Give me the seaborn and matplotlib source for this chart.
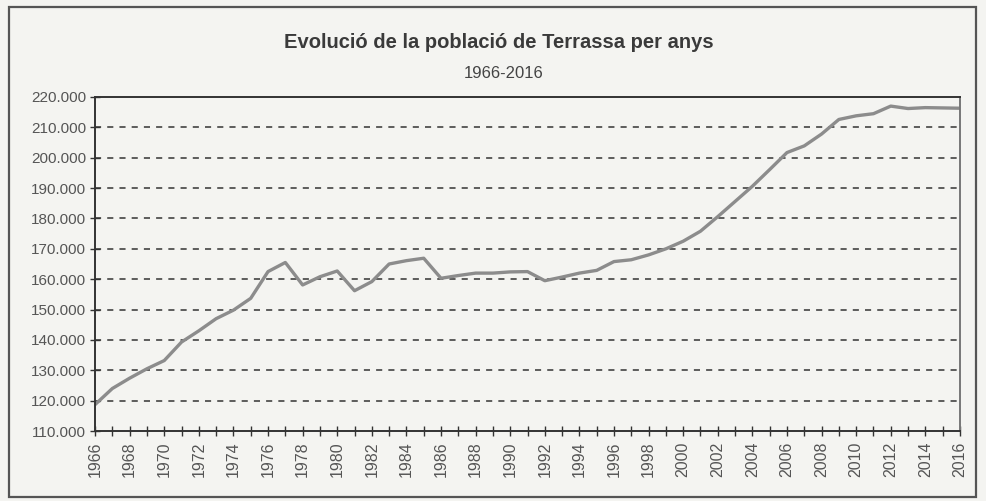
import seaborn as sns
import matplotlib.pyplot as plt
import matplotlib.ticker as mticker
import pandas as pd

# Population of Terrassa per year
years = list(range(1966, 2017))
population = [
    118700, 124000, 127400, 130500, 133200, 139300, 143000, 147000, 149800, 153700,
    162500, 165500, 158100, 160800, 162700, 156200, 159200, 165000, 166100, 166900,
    160300, 161200, 162000, 162000, 162400, 162500, 159500, 160700, 162000, 162900,
    165800, 166400, 168000, 170000, 172500, 175800, 180600, 185600, 190600, 196100,
    201700, 203900, 207800, 212600, 213800, 214500, 217000, 216200, 216500, 216400,
    216300,
]
y_ticks = list(range(110000, 220001, 10000))

title = "Evolució de la població de Terrassa per anys"
subtitle = "1966-2016"

df = pd.DataFrame({"Any": years, "Població": population})

sns.set_style("white")
plt.rcParams["font.family"] = ["Liberation Sans", "DejaVu Sans"]

bg = "#f4f4f1"
fig = plt.figure(figsize=(9.87, 5.01), dpi=100, facecolor=bg)
ax = fig.add_axes([0.0963, 0.1397, 0.8763, 0.6667])
ax.set_facecolor(bg)

# outer frame of the chart
fig.patches.append(plt.Rectangle((0.009, 0.008), 0.98, 0.978, transform=fig.transFigure,
                                 fill=False, edgecolor="#555555", linewidth=1.6))

sns.lineplot(data=df, x="Any", y="Població", ax=ax, color="#8c8c8c", linewidth=2.4)

ax.set_xlim(1966, 2016)
ax.set_ylim(110000, 220000)
ax.set_yticks(y_ticks)
ax.yaxis.set_major_formatter(mticker.FuncFormatter(lambda v, p: f"{int(v):,}".replace(",", ".")))
ax.set_xticks(years[::2])
ax.xaxis.set_minor_locator(mticker.MultipleLocator(1))
ax.tick_params(axis="x", which="both", direction="inout", length=7, width=1, colors="#333333",
               labelrotation=90, labelsize=11.5, labelcolor="#555555", pad=4, bottom=True)
ax.tick_params(axis="y", which="major", direction="inout", length=7, width=1, colors="#333333",
               labelsize=11, labelcolor="#555555", left=True, pad=3)

for v in y_ticks[1:-1]:
    ax.axhline(v, color="#333333", linestyle=(0, (4, 4)), linewidth=1.1, zorder=0)

for side in ["left", "bottom", "top"]:
    ax.spines[side].set_color("#333333")
    ax.spines[side].set_linewidth(1.4)
ax.spines["right"].set_color("#777777")
ax.spines["right"].set_linewidth(1.4)

ax.set_xlabel("")
ax.set_ylabel("")

fig.text(0.505, 0.916, title, ha="center", va="center", fontsize=14.5, fontweight="bold", color="#3a3a3a")
fig.text(0.51, 0.854, subtitle, ha="center", va="center", fontsize=12, color="#444444")

fig.savefig("out.png", dpi=100, facecolor=bg)
